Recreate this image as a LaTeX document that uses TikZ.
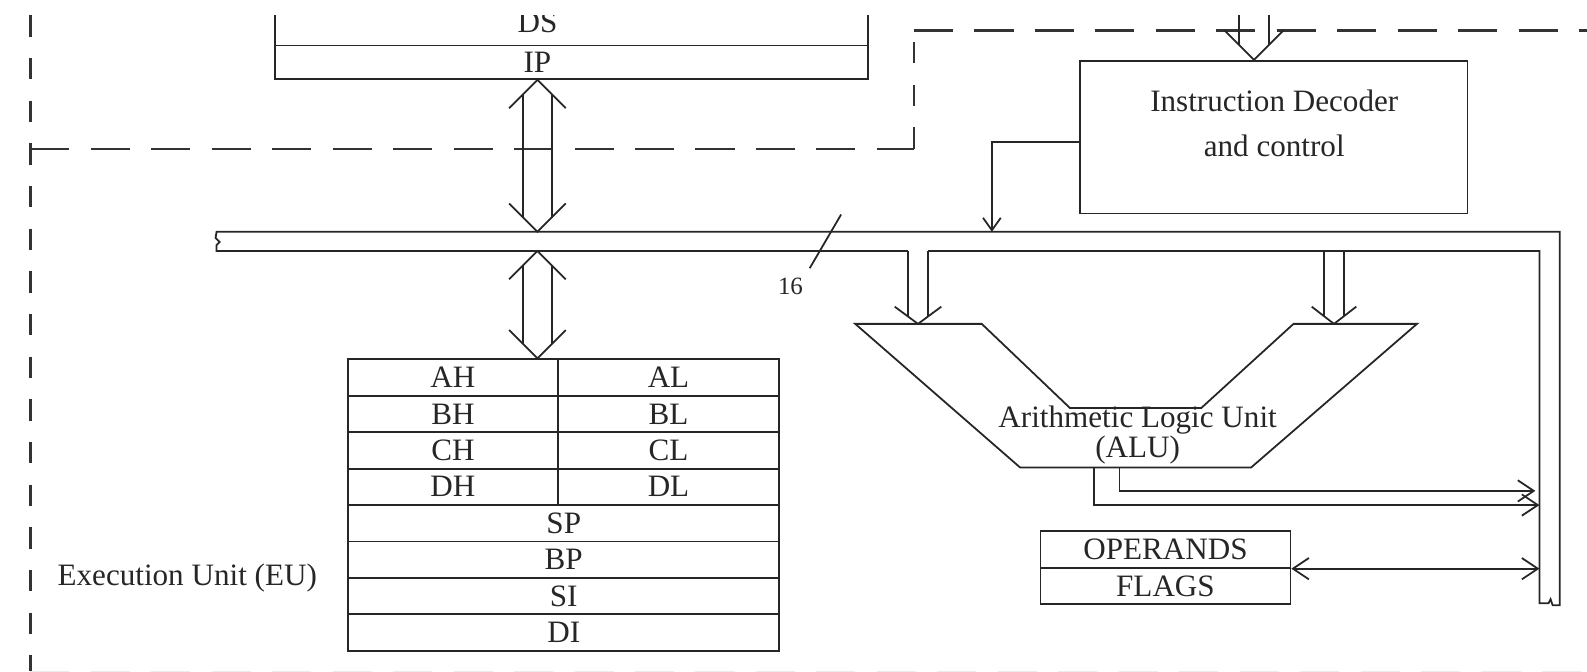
\documentclass[tikz,border=0pt]{standalone}
\usepackage{fontspec}
\setmainfont{Liberation Serif}
\usetikzlibrary{positioning,arrows.meta,calc}

% wide bus arrow with a head at both ends (#1 upper apex, #2 lower apex)
\newcommand{\dblarrow}[2]{%
  \draw[wire] ($(#1)+(-14,14)$) -- ($(#2)+(-14,-14)$);
  \draw[wire] ($(#1)+(14,14)$) -- ($(#2)+(14,-14)$);
  \draw[wire] ($(#1)+(-28,28)$) -- (#1) -- ($(#1)+(28,28)$);
  \draw[wire] ($(#2)+(-28,-28)$) -- (#2) -- ($(#2)+(28,-28)$);}
% wide bus arrow pointing down: start, apex, half gap, half head, head length
\newcommand{\widein}[5]{%
  \draw[wire] ($(#1)+(-#3,0)$) -- ($(#2)+(-#3,{-#5*#3/#4})$);
  \draw[wire] ($(#1)+(#3,0)$) -- ($(#2)+(#3,{-#5*#3/#4})$);
  \draw[wire] ($(#2)+(-#4,-#5)$) -- (#2) -- ($(#2)+(#4,-#5)$);}

\begin{document}
\begin{tikzpicture}[x=0.02cm,y=-0.02cm,font=\fontsize{17.5}{19}\selectfont,
  >={Straight Barb[length=9pt,width=12pt]},
  wire/.style={draw=black!85,line width=1pt},
  bound/.style={draw=black!80,line width=1.4pt,dash pattern=on 22pt off 12pt},
  vbound/.style={draw=black!80,line width=1.4pt,dash pattern=on 12pt off 12pt},
  box/.style={wire,rectangle,inner sep=0pt,text=black!85},
  cell/.style={box,minimum height=0.72cm}]
\useasboundingbox (0,0) rectangle (1568,663);
\clip (0,15) rectangle (1568,663);

% unit boundaries
\draw[vbound] (30,15) -- (30,663);
\draw[bound] (30,147) -- (903,147);
\draw[vbound] (903,147) -- (903,30);
\draw[bound] (903,30) -- (1568,30);
\draw[bound,draw=black!8,line width=2.4pt] (30,665) -- (1568,665);

% BIU registers
\node[box,minimum width=11.72cm,minimum height=1.2cm] (ds) at (565,15) {};
\node[text=black!85] (dstxt) at (531,22) {DS};
\node[box,minimum width=11.72cm,minimum height=0.66cm] (ip) at (565,61.5) {};
\node[text=black!85] (iptxt) at (531,62) {IP};

% internal bus
\coordinate (busT) at (214,229);
\coordinate (busB) at (214,248);
\coordinate (rbus) at (1521,248);
\draw[wire] (897,248) -- (busB) -- (214,242) -- (217,239) -- (213,235) -- (busT)
  -- (1541,229) -- (1541,598) -- (1534,598) -- (1532,592) -- (1530,596) -- (1521,596)
  -- (rbus) -- (917,248);
\node[font=\fontsize{14}{16}\selectfont,text=black!85] (bw) at (781,283) {16};
\draw[wire] (800,265) -- (831,212);

% registers of the EU
\foreach \r [count=\i from 0] in {A,B,C,D}{
  \node[cell,minimum width=4.14cm] (\r H) at (447.5,373+36*\i) {\r H};
  \node[cell,minimum width=4.38cm] (\r L) at (660.5,373+36*\i) {\r L};}
\foreach \r [count=\i from 4] in {SP,BP,SI,DI}
  \node[cell,minimum width=8.52cm] (\r) at (557,373+36*\i) {\r};
\node[text=black!85] (eu) at (185,571) {Execution Unit (EU)};

\coordinate (ipbot) at (ip.south -| iptxt);
\coordinate (bustop) at (iptxt |- busT);
\coordinate (busbot) at (iptxt |- busB);
\coordinate (regtop) at (iptxt |- AH.north);
\dblarrow{ipbot}{bustop}
\dblarrow{busbot}{regtop}

% decoder
\node[box,minimum width=7.66cm,minimum height=3.02cm] (dec) at (1258.5,135.5) {};
\node[align=center,font=\fontsize{17.5}{25.5}\selectfont,text=black!85] (dectxt) at (1259,122)
  {Instruction Decoder\\and control};
\coordinate (decin) at (1239,0);
\coordinate (dectop) at (dec.north -| decin);
\widein{decin}{dectop}{14.5}{29}{29}
\coordinate (ctl) at (980,229);
\draw[wire,-{Straight Barb[length=7pt,width=10pt]}] ($(dec.west)+(0,5)$) -| (ctl);

% ALU
\draw[wire] (845,320) -- (970,320) -- (1057,403) -- (1187,403) -- (1278,320)
  -- (1400,320) -- (1236,462) -- (1008,462) -- cycle;
\node[align=center,font=\fontsize{17.5}{14}\selectfont,text=black!85] (alu) at (1124,430)
  {Arithmetic Logic Unit\\(ALU)};
\coordinate (aluL) at (907,320);
\coordinate (aluR) at (1318,320);
\coordinate (tapL) at (aluL |- busB);
\coordinate (tapR) at (aluR |- busB);
\widein{tapL}{aluL}{10}{23}{17}
\widein{tapR}{aluR}{10}{22}{17}

\coordinate (res1) at (1106,462);
\coordinate (res2) at (1081,462);
\coordinate (ret1) at (1517,485);
\coordinate (ret2) at (1521,499);
\draw[wire,->] (res1) |- (ret1);
\draw[wire,->] (res2) |- (ret2);

% operands and flags
\node[cell,minimum width=4.94cm] (opnd) at (1151.5,543) {OPERANDS};
\node[cell,minimum width=4.94cm] (flags) at (1151.5,579) {FLAGS};
\draw[wire,<->] (opnd.south east) -- (opnd.south east -| rbus);
\end{tikzpicture}
\end{document}
